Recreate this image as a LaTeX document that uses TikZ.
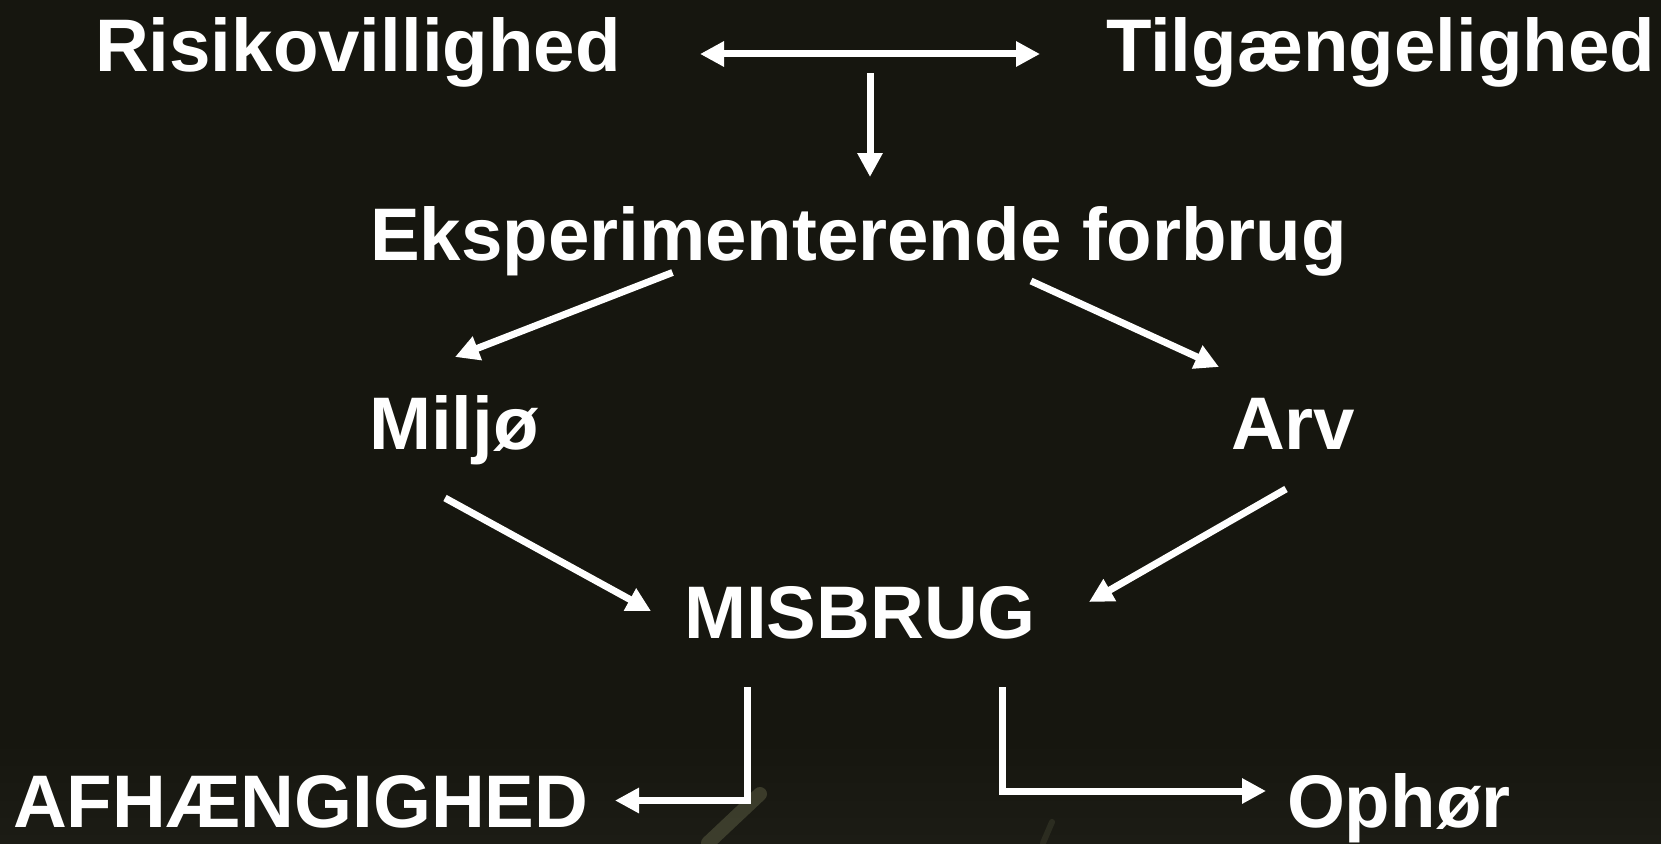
\documentclass[tikz,border=0pt]{standalone}
\usepackage{fontspec}
\setmainfont{Liberation Sans}
\usetikzlibrary{arrows.meta,calc}
\definecolor{bgdark}{RGB}{22,22,15}
\definecolor{bglow}{RGB}{28,28,21}
\definecolor{streak}{RGB}{110,112,80}
\tikzset{
  lbl/.style={anchor=base west, inner sep=0pt, outer sep=0pt, text=white,
    font=\fontsize{74.5}{80}\selectfont\bfseries},
  conn/.style={draw=white, line width=7pt, -{Triangle[length=24pt,width=24pt]}},
  conn2/.style={draw=white, line width=7pt, {Triangle[length=24pt,width=24pt]}-{Triangle[length=24pt,width=24pt]}}
}
\begin{document}
\begin{tikzpicture}[x=1pt,y=-1pt]
\fill[bgdark] (0,0) rectangle (1661,843);
\useasboundingbox (0,0) rectangle (1661,843);
% faint background photo hints
\shade[top color=bgdark, bottom color=bglow] (0,740) rectangle (1661,843);
\draw[streak, line width=14pt, opacity=0.4, line cap=round] (708,843) -- (760,794);
\draw[streak, line width=6pt, opacity=0.2, line cap=round] (1043,843) -- (1052,822);

\node[lbl] (risk) at (95,71) {Risikovillighed};
\node[lbl] (tilg) at (1106,71) {Tilgængelighed};
\node[lbl] (eks)  at (370,260) {Eksperimenterende forbrug};
\node[lbl] (milj) at (369,449) {Miljø};
\node[lbl] (arv)  at (1231,449) {Arv};
\node[lbl] (mis)  at (684,638) {MISBRUG};
\node[lbl] (afh)  at (13,827) {AFHÆNGIGHED};
\node[lbl] (oph)  at (1287,827) {Ophør};

\coordinate (link) at (870,73);

\draw[conn2] ($(risk.base west)+(605,-17)$) -- ($(tilg.base west)+(-66,-17)$);
\draw[conn] (link) -- ($(eks.base west)+(500,-83)$);
\draw[conn] ($(eks.base west)+(302.5,12.5)$) -- ($(milj.base west)+(86,-92)$);
\draw[conn] ($(eks.base west)+(661,21)$) -- ($(arv.base west)+(-12,-82)$);
\draw[conn] ($(milj.base west)+(76,49)$) -- ($(mis.base west)+(-33,-27)$);
\draw[conn] ($(arv.base west)+(55,40)$) -- ($(mis.base west)+(405,-36)$);
\draw[conn] ($(mis.base west)+(63,49)$) |- ($(afh.base west)+(602,-26.5)$);
\draw[conn] ($(mis.base west)+(318,49)$) |- ($(oph.base west)+(-21,-36)$);
\end{tikzpicture}
\end{document}
